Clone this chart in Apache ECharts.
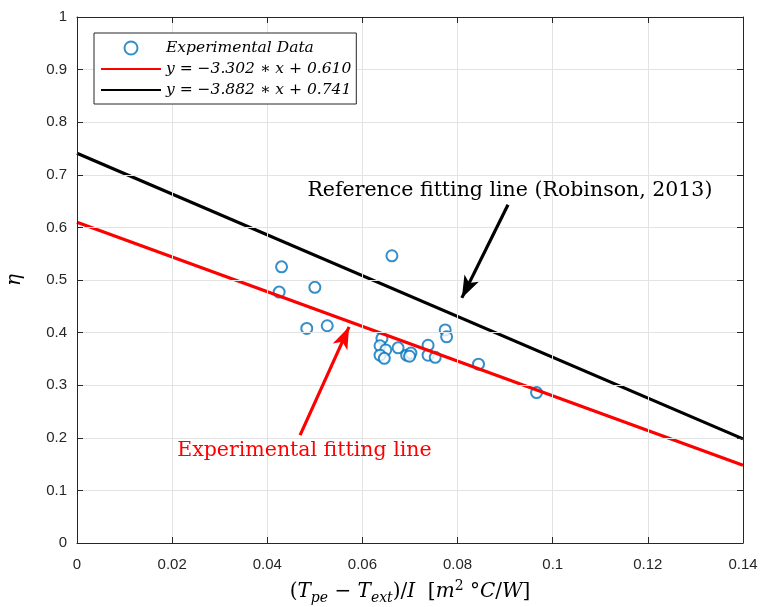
<!DOCTYPE html>
<html>
<head>
<meta charset="utf-8">
<script src="https://cdn.jsdelivr.net/npm/echarts@6/dist/echarts.min.js"></script>
<style>html,body{margin:0;padding:0;background:#fff;}#c{width:764px;height:607px;}</style>
</head>
<body>
<div id="c"></div>
<script>
// Data
var expX = [0.0425,0.0430,0.0483,0.0500,0.0526,0.0662,0.0641,0.0637,0.0649,0.0637,0.0646,0.0675,0.0693,0.0702,0.0699,0.0738,0.0738,0.0753,0.0774,0.0777,0.0844,0.0966];
var expY = [0.477,0.525,0.408,0.486,0.413,0.546,0.389,0.375,0.367,0.357,0.351,0.371,0.357,0.361,0.355,0.376,0.357,0.353,0.405,0.392,0.340,0.286];
var redLine = [[0, 0.610], [0.14, 0.148]];
var blackLine = [[0, 0.741], [0.14, 0.198]];
var legendNames = ['Experimental Data', 'y = \u22123.302 \u2217 x + 0.610', 'y = \u22123.882 \u2217 x + 0.741'];
var xTicks = [0, 0.02, 0.04, 0.06, 0.08, 0.1, 0.12, 0.14];
var yTicks = [0, 0.1, 0.2, 0.3, 0.4, 0.5, 0.6, 0.7, 0.8, 0.9, 1];
var refArrow = [[0.0906, 0.643], [0.0809, 0.466]];
var expArrow = [[0.0469, 0.205], [0.0572, 0.411]];
var refText = {text: 'Reference fitting line (Robinson, 2013)', at: [0.0910, 0.670]};
var expText = {text: 'Experimental fitting line', at: [0.0478, 0.175]};

var scatterData = expX.map(function (x, i) { return [x, expY[i]]; });
var serif = '"DejaVu Serif", "Liberation Serif", serif';
var sans = '"Liberation Sans", Arial, sans-serif';

var axisCommon = {
  min: 0,
  axisLine: {show: true, onZero: false, lineStyle: {color: '#262626', width: 1}},
  axisTick: {show: true, inside: true, length: 6, lineStyle: {color: '#262626', width: 1}},
  axisLabel: {color: '#262626', fontSize: 15, fontFamily: sans},
  splitLine: {show: true, lineStyle: {color: '#e3e3e3', width: 1}},
  z: 5
};

var chart = echarts.init(document.getElementById('c'), null, {renderer: 'canvas'});
var option = {
  backgroundColor: '#fff',
  animation: false,
  grid: {left: 77, right: 21, top: 17, bottom: 64, outerBoundsMode: 'none', containLabel: false},
  legend: {
    show: true, orient: 'vertical', left: 94, top: 33, z: 20,
    backgroundColor: '#fff', borderColor: '#262626', borderWidth: 1,
    padding: [7, 5, 6, 6], itemWidth: 60, itemHeight: 13, itemGap: 5,
    textStyle: {fontFamily: serif, fontStyle: 'italic', fontSize: 15.5, color: '#000'},
    data: [
      {name: legendNames[0], icon: 'emptyCircle'},
      {name: legendNames[1], itemStyle: {color: 'rgba(0,0,0,0)', borderColor: 'rgba(0,0,0,0)', borderWidth: 0}},
      {name: legendNames[2], itemStyle: {color: 'rgba(0,0,0,0)', borderColor: 'rgba(0,0,0,0)', borderWidth: 0}}
    ]
  },
  xAxis: [
    Object.assign({}, axisCommon, {
      type: 'value', max: 0.14, interval: 0.02, position: 'bottom',
      axisLabel: Object.assign({}, axisCommon.axisLabel, {margin: 14, formatter: function (v) { return String(+v.toFixed(2)); }}),
      name: '{t|(}{i|T}{s|pe}{t| \u2212 }{i|T}{s|ext}{t|)/}{i|I}{t|  [}{i|m}{p|2}{t| \u00b0}{i|C}{t|/}{i|W}{t|]}',
      nameLocation: 'middle', nameGap: 29,
      nameTextStyle: {
        rich: {
          t: {fontFamily: serif, fontSize: 20, color: '#000', height: 28, verticalAlign: 'middle'},
          i: {fontFamily: serif, fontSize: 20, fontStyle: 'italic', color: '#000', height: 28, verticalAlign: 'middle'},
          s: {fontFamily: serif, fontSize: 14, fontStyle: 'italic', color: '#000', height: 28, padding: [12, 0, 0, 0]},
          p: {fontFamily: serif, fontSize: 14, color: '#000', height: 28, padding: [0, 0, 11, 0]}
        }
      }
    }),
    Object.assign({}, axisCommon, {
      type: 'value', max: 0.14, interval: 0.02, position: 'top',
      axisLabel: {show: false}, splitLine: {show: false}
    })
  ],
  yAxis: [
    Object.assign({}, axisCommon, {
      type: 'value', max: 1, interval: 0.1, position: 'left',
      axisLabel: Object.assign({}, axisCommon.axisLabel, {margin: 10, formatter: function (v) { return String(+v.toFixed(1)); }}),
      name: '\u03b7', nameLocation: 'middle', nameGap: 52, nameRotate: 90,
      nameTextStyle: {fontFamily: serif, fontStyle: 'italic', fontSize: 20, color: '#000'}
    }),
    Object.assign({}, axisCommon, {
      type: 'value', max: 1, interval: 0.1, position: 'right',
      axisLabel: {show: false}, splitLine: {show: false}
    })
  ],
  series: [
    {
      name: legendNames[0], type: 'scatter', data: scatterData, z: 2,
      symbol: 'emptyCircle', symbolSize: 11,
      itemStyle: {color: '#0072bd', borderColor: '#0072bd', borderWidth: 1.6}
    },
    {
      name: legendNames[1], type: 'line', data: redLine, symbol: 'none', z: 3,
      lineStyle: {color: '#ff0000', width: 3.2}, itemStyle: {color: '#ff0000'},
      markLine: {
        silent: true, symbol: ['none', 'arrow'], symbolSize: [12, 22], label: {show: false},
        lineStyle: {color: '#ff0000', width: 3.2, type: 'solid'},
        data: [[{coord: expArrow[0]}, {coord: expArrow[1]}]]
      }
    },
    {
      name: legendNames[2], type: 'line', data: blackLine, symbol: 'none', z: 3,
      lineStyle: {color: '#000000', width: 3.2}, itemStyle: {color: '#000000'},
      markLine: {
        silent: true, symbol: ['none', 'arrow'], symbolSize: [12, 22], label: {show: false},
        lineStyle: {color: '#000000', width: 3.2, type: 'solid'},
        data: [[{coord: refArrow[0]}, {coord: refArrow[1]}]]
      }
    }
  ]
};
chart.setOption(option);

var p1 = chart.convertToPixel({gridIndex: 0}, refText.at);
var p2 = chart.convertToPixel({gridIndex: 0}, expText.at);
chart.setOption({
  graphic: [
    {type: 'text', x: p1[0], y: p1[1], z: 10,
     style: {text: refText.text, fill: '#000', fontFamily: serif, fontSize: 20.5, align: 'center', verticalAlign: 'middle'}},
    {type: 'text', x: p2[0], y: p2[1], z: 10,
     style: {text: expText.text, fill: '#ff0000', fontFamily: serif, fontSize: 20.5, align: 'center', verticalAlign: 'middle'}}
  ]
});
</script>
</body>
</html>
